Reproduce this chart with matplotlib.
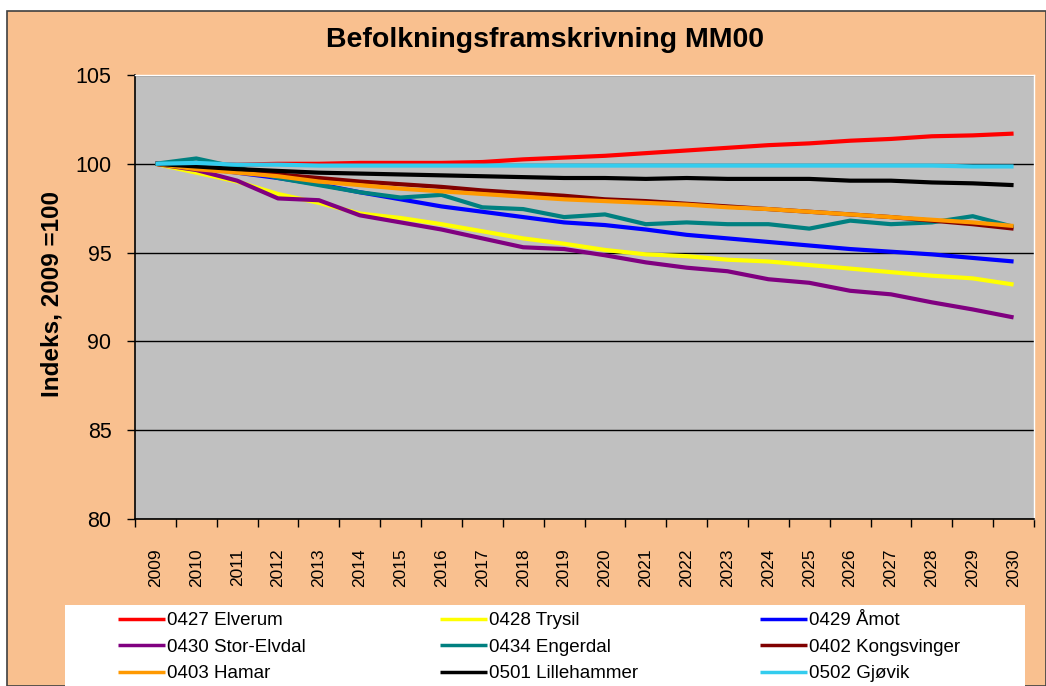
import matplotlib
matplotlib.use('Agg')
from matplotlib import pyplot as plt
from matplotlib.patches import Rectangle

plt.rcParams['font.family'] = ['Liberation Sans', 'DejaVu Sans']

years = [str(y) for y in range(2009, 2031)]

elverum = [100, 100.05, 99.95, 100.0, 100.0, 100.05, 100.05, 100.05, 100.1, 100.25, 100.35,
           100.45, 100.6, 100.75, 100.9, 101.05, 101.15, 101.3, 101.4, 101.55, 101.6, 101.7]
trysil = [100, 99.5, 99.0, 98.3, 97.8, 97.2, 96.95, 96.6, 96.2, 95.8, 95.5,
          95.15, 94.9, 94.8, 94.6, 94.5, 94.3, 94.1, 93.9, 93.7, 93.55, 93.2]
amot = [100, 99.8, 99.5, 99.2, 98.85, 98.4, 98.0, 97.6, 97.3, 97.0, 96.7,
        96.55, 96.3, 96.0, 95.8, 95.6, 95.4, 95.2, 95.05, 94.9, 94.7, 94.5]
stor_elvdal = [100, 99.65, 99.05, 98.05, 97.95, 97.1, 96.7, 96.3, 95.8, 95.3, 95.2,
               94.85, 94.45, 94.15, 93.95, 93.5, 93.3, 92.85, 92.65, 92.2, 91.8, 91.35]
engerdal = [100, 100.3, 99.8, 99.2, 98.8, 98.4, 98.1, 98.25, 97.55, 97.45, 97.0,
            97.15, 96.6, 96.7, 96.6, 96.6, 96.35, 96.8, 96.6, 96.7, 97.05, 96.45]
kongsvinger = [100, 99.75, 99.6, 99.4, 99.2, 99.0, 98.85, 98.7, 98.5, 98.35, 98.2,
               98.0, 97.9, 97.75, 97.6, 97.45, 97.3, 97.15, 97.0, 96.8, 96.6, 96.35]
hamar = [100, 99.7, 99.5, 99.3, 99.0, 98.8, 98.6, 98.45, 98.3, 98.15, 98.0,
         97.9, 97.8, 97.7, 97.55, 97.45, 97.3, 97.15, 97.0, 96.85, 96.7, 96.5]
lillehammer = [100, 99.85, 99.7, 99.6, 99.5, 99.45, 99.4, 99.35, 99.3, 99.25, 99.2,
               99.2, 99.15, 99.2, 99.15, 99.15, 99.15, 99.05, 99.05, 98.95, 98.9, 98.8]
gjovik = [100, 100.05, 99.95, 99.95, 99.9, 99.9, 99.9, 99.9, 99.9, 99.9, 99.9,
          99.9, 99.9, 99.9, 99.9, 99.9, 99.9, 99.9, 99.9, 99.9, 99.85, 99.85]

series = [
    ('0427 Elverum', elverum, '#FF0000'),
    ('0428 Trysil', trysil, '#FFFF00'),
    ('0429 Åmot', amot, '#0000FF'),
    ('0430 Stor-Elvdal', stor_elvdal, '#800080'),
    ('0434 Engerdal', engerdal, '#008080'),
    ('0402 Kongsvinger', kongsvinger, '#800000'),
    ('0403 Hamar', hamar, '#FF9900'),
    ('0501 Lillehammer', lillehammer, '#000000'),
    ('0502 Gjøvik', gjovik, '#33CCEE'),
]

W, H = 1046, 686
fig = plt.figure(figsize=(W / 100, H / 100), dpi=100, facecolor='white')

# peach chart area with thin frame
fig.patches.append(Rectangle((7 / W, 0), 1 - 7 / W, 1 - 11 / H, transform=fig.transFigure,
                             facecolor='#F9C08F', edgecolor='#404040', linewidth=1.2, zorder=-2))
# white legend box, cut off at the bottom
fig.patches.append(Rectangle((65 / W, -0.02), (1025 - 65) / W, (686 - 605) / H + 0.02,
                             transform=fig.transFigure, facecolor='white', edgecolor='none',
                             zorder=-1))

ax = fig.add_axes([135 / W, 1 - 519 / H, (1034 - 135) / W, (519 - 75) / H])
ax.set_zorder(2)
ax.set_facecolor('#C0C0C0')

x = list(range(len(years)))
handles = {}
for name, vals, col in series:
    ln, = ax.plot(x, vals, color=col, lw=3, label=name, solid_capstyle='butt')
    handles[name] = ln

ax.set_ylim(80, 105)
ax.set_xlim(-0.5, len(years) - 0.5)
ax.set_yticks([80, 85, 90, 95, 100, 105])
ax.yaxis.grid(True, color='black', lw=1)
ax.set_axisbelow(True)
ax.tick_params(axis='y', length=6, width=1, pad=11, labelsize=15.5, direction='out')

ax.set_xticks(x)
ax.set_xticklabels(years, rotation=90, fontsize=12.5)
ax.tick_params(axis='x', which='major', length=0, pad=21)
ax.set_xticks([i - 0.5 for i in range(len(years) + 1)], minor=True)
ax.tick_params(axis='x', which='minor', length=6, width=1, direction='out')

for s in ['top', 'right']:
    ax.spines[s].set_color('white')
    ax.spines[s].set_linewidth(1)
ax.spines['left'].set_linewidth(1.2)
ax.spines['bottom'].set_linewidth(1.2)

fig.text(545 / W, 1 - 40 / H, 'Befolkningsframskrivning MM00', ha='center', va='center',
         fontsize=20.5, fontweight='bold')
fig.text(52 / W, 1 - 294 / H, 'Indeks, 2009 =100', ha='center', va='center',
         rotation=90, fontsize=17.5, fontweight='bold')

# legend: three columns, row-wise order as in the original
columns = [['0427 Elverum', '0430 Stor-Elvdal', '0403 Hamar'],
           ['0428 Trysil', '0434 Engerdal', '0501 Lillehammer'],
           ['0429 Åmot', '0402 Kongsvinger', '0502 Gjøvik']]
col_x = [118, 440, 760]
for names, cx in zip(columns, col_x):
    leg = fig.legend([handles[n] for n in names], names, ncol=1, frameon=False,
                     loc='upper left', bbox_to_anchor=(cx / W, 1 - 612 / H),
                     fontsize=13.5, handlelength=2.5, handletextpad=0.1,
                     labelspacing=0.5, borderaxespad=0, borderpad=0)
    for h in leg.legend_handles:
        h.set_linewidth(2.5)

fig.savefig('out.png', dpi=100, facecolor=fig.get_facecolor())
